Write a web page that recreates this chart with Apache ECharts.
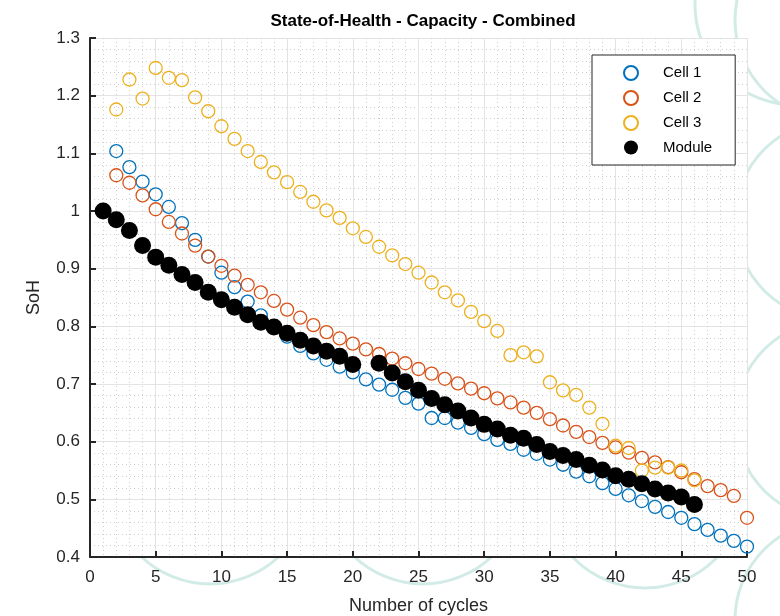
<!DOCTYPE html>
<html>
<head>
<meta charset="utf-8">
<script src="https://cdn.jsdelivr.net/npm/echarts@6/dist/echarts.min.js"></script>
<style>html,body{margin:0;padding:0;background:#fff;}#c{width:780px;height:616px;}</style>
</head>
<body>
<div id="c"></div>
<script>
const cellCycles = [2,3,4,5,6,7,8,9,10,11,12,13,14,15,16,17,18,19,20,21,22,23,24,25,26,27,28,29,30,31,32,33,34,35,36,37,38,39,40,41,42,43,44,45,46,47,48,49,50];
const cell1 = [1.104,1.076,1.051,1.029,1.007,0.979,0.950,0.921,0.893,0.868,0.843,0.819,0.800,0.782,0.766,0.753,0.742,0.730,0.720,0.708,0.699,0.690,0.676,0.666,0.641,0.641,0.633,0.624,0.613,0.603,0.596,0.586,0.579,0.569,0.560,0.548,0.540,0.528,0.518,0.507,0.497,0.487,0.478,0.468,0.457,0.447,0.437,0.428,0.418];
const cell2 = [1.062,1.049,1.027,1.003,0.981,0.961,0.940,0.921,0.905,0.888,0.872,0.859,0.844,0.829,0.815,0.802,0.790,0.779,0.770,0.760,0.752,0.744,0.736,0.726,0.718,0.709,0.701,0.692,0.684,0.675,0.668,0.659,0.650,0.639,0.628,0.617,0.608,0.598,0.590,0.581,0.572,0.564,0.556,0.547,0.535,0.523,0.516,0.506,0.468];
const cell3Cycles = [2,3,4,5,6,7,8,9,10,11,12,13,14,15,16,17,18,19,20,21,22,23,24,25,26,27,28,29,30,31,32,33,34,35,36,37,38,39,40,41,42,43,44,45,46];
const cell3 = [1.176,1.228,1.195,1.248,1.231,1.227,1.197,1.173,1.147,1.125,1.104,1.085,1.067,1.050,1.033,1.016,1.001,0.988,0.970,0.955,0.938,0.923,0.908,0.893,0.876,0.859,0.845,0.825,0.809,0.792,0.750,0.755,0.748,0.703,0.689,0.681,0.659,0.631,0.593,0.589,0.550,0.555,0.555,0.550,0.533];
const moduleCycles = [1,2,3,4,5,6,7,8,9,10,11,12,13,14,15,16,17,18,19,20,22,23,24,25,26,27,28,29,30,31,32,33,34,35,36,37,38,39,40,41,42,43,44,45,46];
const moduleVals = [1.000,0.985,0.966,0.940,0.920,0.906,0.890,0.876,0.859,0.846,0.833,0.820,0.807,0.799,0.788,0.776,0.766,0.757,0.748,0.734,0.736,0.719,0.704,0.689,0.675,0.664,0.653,0.641,0.630,0.622,0.611,0.606,0.595,0.583,0.576,0.569,0.559,0.551,0.541,0.535,0.527,0.518,0.511,0.504,0.491];
const xTicks = [0,5,10,15,20,25,30,35,40,45,50];
const yTicks = [0.4,0.5,0.6,0.7,0.8,0.9,1.0,1.1,1.2,1.3];
const seriesNames = ['Cell 1','Cell 2','Cell 3','Module'];
const seriesColors = ['#0072BD','#D95319','#EDB120','#000000'];

const FONT = 'Liberation Sans, Arial, Helvetica, sans-serif';
function pairs(xs, ys){ return xs.map((x,i)=>[x, ys[i]]); }

const chart = echarts.init(document.getElementById('c'), null, {renderer:'canvas'});
const circleStyle = {type:'circle', z:-100, silent:true, style:{fill:'none', stroke:'#d3ebe7', lineWidth:3}};
const deco = [
  [210,484,100],[423,484,100],[645,488,100],
  [835,20,100],[835,220,100],[835,420,100],[835,620,100],[795,5,100]
].map(c=>Object.assign({}, circleStyle, {shape:{cx:c[0], cy:c[1], r:c[2]}}));

const openSeries = (name, color, data) => ({
  name, type:'scatter', data, symbol:'circle', symbolSize:13,
  itemStyle:{color:'rgba(255,255,255,0)', borderColor:color, borderWidth:1.3, opacity:1},
  emphasis:{disabled:true}, z:3
});

chart.setOption({
  animation:false,
  backgroundColor:'#ffffff',
  graphic: deco,
  title:{
    text:'State-of-Health - Capacity - Combined', left:418, top:8, textAlign:'center',
    textStyle:{fontFamily:FONT, fontSize:17, fontWeight:'bold', color:'#000'}
  },
  grid:{left:90, right:33, top:38, bottom:59, show:true, backgroundColor:'#ffffff', borderWidth:0,
        containLabel:false, outerBoundsMode:'none'},
  legend:{
    orient:'vertical', left:592, top:55, padding:[10,23,10,31], itemGap:9,
    itemWidth:14, itemHeight:14, backgroundColor:'#ffffff', borderColor:'#262626', borderWidth:1,
    borderRadius:0,
    textStyle:{fontFamily:FONT, fontSize:15, color:'#000', padding:[0,0,0,20]},
    data: seriesNames
  },
  xAxis:{
    type:'value', min:0, max:50, interval:5,
    name:'Number of cycles', nameLocation:'middle', nameGap:40,
    nameTextStyle:{fontFamily:FONT, fontSize:18, color:'#262626'},
    axisLine:{show:true, onZero:false, lineStyle:{color:'#262626', width:2}},
    axisTick:{show:true, inside:true, length:6, lineStyle:{color:'#262626', width:2}},
    axisLabel:{fontFamily:FONT, fontSize:17, color:'#262626', margin:12,
      formatter:v=> xTicks.includes(v) ? String(v) : ''},
    splitLine:{show:true, lineStyle:{color:'#e3e3e3', width:1}},
    minorTick:{show:false, splitNumber:5},
    minorSplitLine:{show:true, lineStyle:{color:'#cfcfcf', width:1, type:[1,3]}}
  },
  yAxis:{
    type:'value', min:0.4, max:1.3, interval:0.1,
    name:'SoH', nameLocation:'middle', nameGap:47,
    nameTextStyle:{fontFamily:FONT, fontSize:18, color:'#262626'},
    axisLine:{show:true, onZero:false, lineStyle:{color:'#262626', width:2}},
    axisTick:{show:true, inside:true, length:6, lineStyle:{color:'#262626', width:2}},
    axisLabel:{fontFamily:FONT, fontSize:17, color:'#262626', margin:10,
      formatter:v=>{ const r=Math.round(v*10)/10; return r===1?'1':r.toFixed(1); }},
    splitLine:{show:true, lineStyle:{color:'#e3e3e3', width:1}},
    minorTick:{show:false, splitNumber:5},
    minorSplitLine:{show:true, lineStyle:{color:'#cfcfcf', width:1, type:[1,3]}}
  },
  series:[
    openSeries(seriesNames[0], seriesColors[0], pairs(cellCycles, cell1)),
    openSeries(seriesNames[1], seriesColors[1], pairs(cellCycles, cell2)),
    openSeries(seriesNames[2], seriesColors[2], pairs(cell3Cycles, cell3)),
    {name:seriesNames[3], type:'scatter', data:pairs(moduleCycles, moduleVals), symbol:'circle', symbolSize:17,
     itemStyle:{color:seriesColors[3], opacity:1}, emphasis:{disabled:true}, z:4}
  ]
});
</script>
</body>
</html>
